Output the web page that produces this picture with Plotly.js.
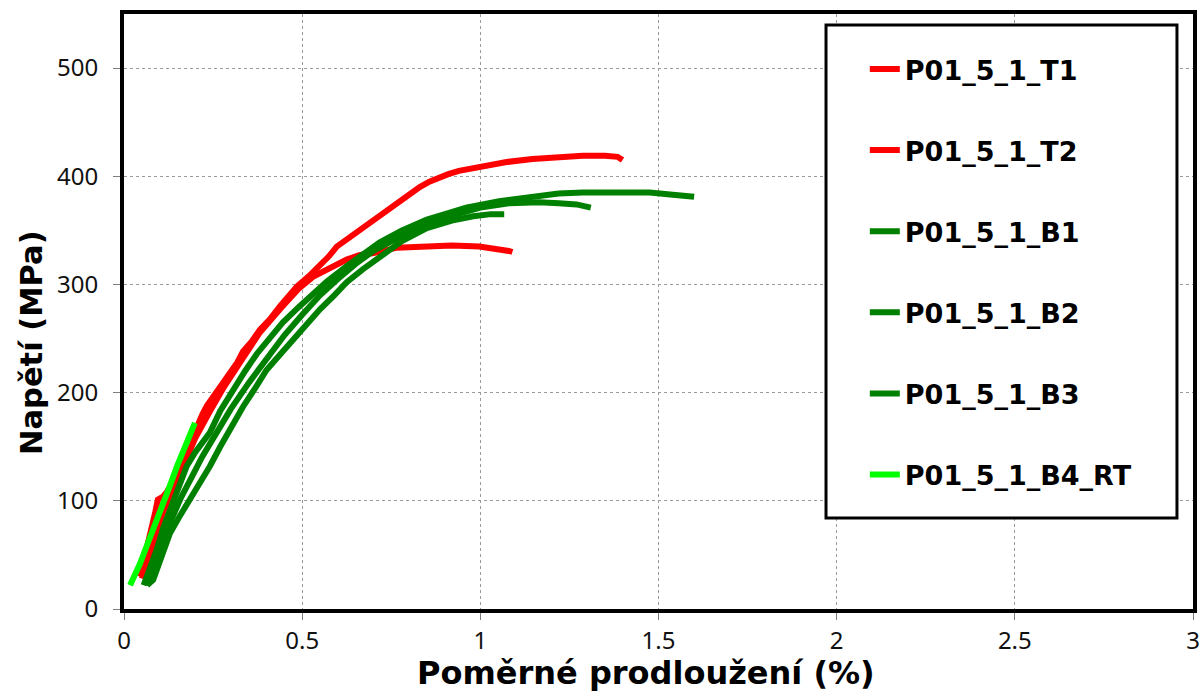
<!DOCTYPE html>
<html>
<head>
<meta charset="utf-8">
<script src="https://cdn.plot.ly/plotly-3.0.1.min.js"></script>
<style>html,body{margin:0;padding:0;background:#fff;}#chart{width:1201px;height:693px;}</style>
</head>
<body>
<div id="chart"></div>
<script>
// Series names
const seriesNames = ["P01_5_1_T1", "P01_5_1_T2", "P01_5_1_B1", "P01_5_1_B2", "P01_5_1_B3", "P01_5_1_B4_RT"];
const seriesColors = ["#ff0000", "#ff0000", "#008000", "#008000", "#008000", "#00ff00"];

// Strain (%) and stress (MPa)
const t1X = [0.045, 0.06, 0.072, 0.079, 0.088, 0.095, 0.11, 0.12, 0.132, 0.143, 0.157, 0.171, 0.188, 0.205, 0.22, 0.233, 0.25, 0.269, 0.285, 0.30, 0.318, 0.334, 0.358, 0.381, 0.41, 0.438, 0.46, 0.485, 0.52, 0.55, 0.575, 0.597, 0.63, 0.662, 0.69, 0.718, 0.746, 0.774, 0.80, 0.83, 0.857, 0.885, 0.91, 0.94, 0.97, 0.997, 1.07, 1.146, 1.22, 1.287, 1.35, 1.385, 1.399];
const t1Y = [30, 50, 64, 78, 90, 101, 104, 108, 114, 120, 128, 142, 156, 170, 180, 188, 196, 205, 212, 220, 228, 238, 247, 258, 268, 280, 289, 298, 308, 317, 326, 335, 343, 351, 357, 364, 371, 378, 384, 390, 395, 399, 402, 405, 407, 409, 413, 416, 418, 419, 419, 418, 415];

const t2X = [0.05, 0.07, 0.09, 0.11, 0.14, 0.17, 0.2, 0.24, 0.28, 0.33, 0.38, 0.44, 0.49, 0.53, 0.58, 0.625, 0.66, 0.70, 0.766, 0.82, 0.858, 0.92, 0.997, 1.05, 1.08, 1.09];
const t2Y = [28, 48, 70, 90, 112, 135, 158, 182, 205, 230, 255, 278, 296, 307, 316, 323, 327, 329, 334, 335, 335, 336, 335, 333, 331, 330];

const b1X = [0.055, 0.07, 0.092, 0.11, 0.129, 0.15, 0.176, 0.2, 0.241, 0.27, 0.306, 0.34, 0.373, 0.41, 0.446, 0.49, 0.522, 0.57, 0.625, 0.68, 0.718, 0.78, 0.85, 0.91, 0.96, 1.053, 1.146, 1.22, 1.287, 1.38, 1.475, 1.54, 1.6];
const b1Y = [22, 35, 55, 75, 92, 110, 132, 145, 163, 183, 203, 220, 236, 251, 265, 279, 289, 303, 317, 330, 339, 350, 360, 366, 371, 377, 381, 384, 385, 385, 385, 383, 381];

const b2X = [0.06, 0.08, 0.1, 0.13, 0.16, 0.19, 0.22, 0.26, 0.3, 0.35, 0.4, 0.45, 0.5, 0.55, 0.6, 0.65, 0.7, 0.76, 0.82, 0.88, 0.94, 1.0, 1.08, 1.165, 1.22, 1.27, 1.31];
const b2Y = [22, 38, 58, 82, 103, 122, 141, 163, 185, 209, 232, 253, 272, 290, 305, 319, 331, 342, 352, 360, 366, 371, 375, 376, 375, 374, 371];

const b3X = [0.065, 0.082, 0.105, 0.129, 0.155, 0.185, 0.21, 0.241, 0.27, 0.297, 0.334, 0.37, 0.40, 0.44, 0.474, 0.51, 0.55, 0.59, 0.625, 0.67, 0.718, 0.78, 0.85, 0.92, 0.98, 1.03, 1.067];
const b3Y = [22, 27, 48, 70, 85, 101, 115, 132, 150, 166, 187, 205, 221, 236, 249, 263, 277, 290, 302, 314, 326, 340, 352, 359, 363, 365, 365];

const b4X = [0.017, 0.03, 0.045, 0.06, 0.082, 0.1, 0.115, 0.13, 0.149, 0.165, 0.177, 0.19, 0.199];
const b4Y = [22, 30, 42, 55, 73, 88, 101, 115, 132, 145, 156, 165, 172];

const xTickVals = [0, 0.5, 1, 1.5, 2, 2.5, 3];
const xTickText = ["0", "0.5", "1", "1.5", "2", "2.5", "3"];
const yTickVals = [0, 100, 200, 300, 400, 500];
const yTickText = ["0", "100", "200", "300", "400", "500"];

const xs = [t1X, t2X, b1X, b2X, b3X, b4X];
const ys = [t1Y, t2Y, b1Y, b2Y, b3Y, b4Y];

const traces = seriesNames.map((name, i) => ({
  type: "scatter",
  mode: "lines",
  name: name,
  legendgroup: "g" + i,
  x: xs[i],
  y: ys[i],
  line: {color: seriesColors[i], width: 6, shape: "linear"}
}));

const tickFont = {family: "Noto Sans", size: 24, color: "#111"};
const titleFont = {family: "DejaVu Sans", weight: "bold", color: "#000"};
const layout = {
  width: 1201, height: 693,
  margin: {l: 124, r: 8, t: 14, b: 84},
  paper_bgcolor: "#fff", plot_bgcolor: "#fff",
  showlegend: true,
  xaxis: {
    range: [0, 3], tickvals: xTickVals, ticktext: xTickText,
    showgrid: true, gridcolor: "#9a9a9a", griddash: "dot", gridwidth: 1,
    zeroline: false, showline: true, linecolor: "#000", linewidth: 4, mirror: true,
    ticks: "outside", ticklen: 7, tickcolor: "#808080", tickwidth: 1,
    tickfont: tickFont, ticklabelstandoff: 0
  },
  yaxis: {
    range: [0, 550], tickvals: yTickVals, ticktext: yTickText,
    showgrid: true, gridcolor: "#9a9a9a", griddash: "dot", gridwidth: 1,
    zeroline: false, showline: true, linecolor: "#000", linewidth: 4, mirror: true,
    ticks: "outside", ticklen: 7, tickcolor: "#808080", tickwidth: 1,
    tickfont: tickFont, ticklabelstandoff: 10
  },
  annotations: [
    {text: "Poměrné prodloužení (%)", xref: "paper", yref: "paper", x: 0.4883, y: -0.1084,
     xanchor: "center", yanchor: "middle", showarrow: false, font: Object.assign({size: 32}, titleFont)},
    {text: "Napětí (MPa)", xref: "paper", yref: "paper", x: -0.087, y: 0.4487, textangle: -90,
     xanchor: "center", yanchor: "middle", showarrow: false, font: Object.assign({size: 30.5}, titleFont)}
  ],
  shapes: [{
    type: "rect", xref: "paper", yref: "paper", layer: "above",
    x0: 0.6567, x1: 0.985, y0: 0.153, y1: 0.9815,
    line: {color: "#000", width: 3}, fillcolor: "#fff"
  }],
  legend: {
    x: 0.693, y: 0.948, xanchor: "left", yanchor: "top",
    bgcolor: "rgba(0,0,0,0)", borderwidth: 0,
    font: {family: "DejaVu Sans", size: 27, weight: "bold", color: "#000"},
    traceorder: "grouped", tracegroupgap: 43
  }
};

Plotly.newPlot("chart", traces, layout, {displayModeBar: false, staticPlot: true});
</script>
</body>
</html>
